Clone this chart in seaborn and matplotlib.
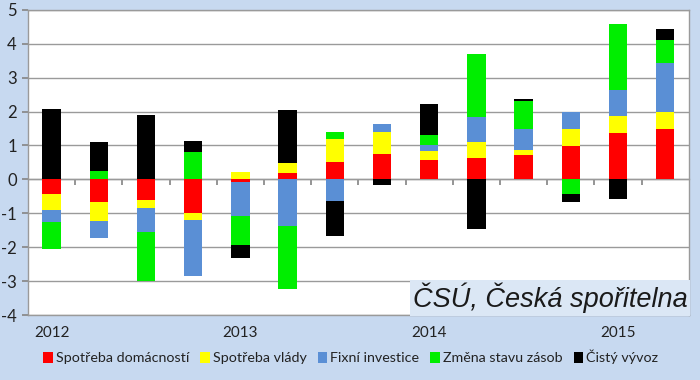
import numpy as np
import pandas as pd
import matplotlib
matplotlib.use("Agg")
import matplotlib.pyplot as plt
import seaborn as sns
from matplotlib.patches import Patch

quarters = ["2012Q1", "2012Q2", "2012Q3", "2012Q4",
            "2013Q1", "2013Q2", "2013Q3", "2013Q4",
            "2014Q1", "2014Q2", "2014Q3", "2014Q4",
            "2015Q1", "2015Q2"]
year_labels = ["2012", "2013", "2014", "2015"]

domacnosti = [-0.42, -0.67, -0.62, -1.00, -0.08, 0.20, 0.52, 0.74, 0.56, 0.62, 0.72, 0.98, 1.36, 1.49]
vlady      = [-0.48, -0.56, -0.22, -0.21, 0.22, 0.27, 0.68, 0.67, 0.27, 0.49, 0.14, 0.52, 0.51, 0.50]
investice  = [-0.35, -0.51, -0.70, -1.64, -1.00, -1.38, -0.63, 0.21, 0.18, 0.73, 0.64, 0.50, 0.76, 1.44]
zasoby     = [-0.81, 0.24, -1.46, 0.82, -0.86, -1.84, 0.21, 0.00, 0.30, 1.85, 0.81, -0.44, 1.94, 0.69]
vyvoz      = [2.09, 0.85, 1.90, 0.30, -0.39, 1.57, -1.04, -0.17, 0.90, -1.47, 0.05, -0.22, -0.57, 0.32]

series_names = ["Spotřeba domácností", "Spotřeba vlády", "Fixní investice",
                "Změna stavu zásob", "Čistý vývoz"]
series_vals = [domacnosti, vlady, investice, zasoby, vyvoz]
colors = ["#ff0000", "#ffff00", "#5a8fd5", "#00ee00", "#000000"]

bg = "#c7d9f0"
sns.set_theme(style="white")
plt.rcParams["font.family"] = ["Lato", "DejaVu Sans"]
plt.rcParams["axes.unicode_minus"] = False

fig = plt.figure(figsize=(7, 3.8), dpi=100, facecolor=bg)
ax = fig.add_axes([0.040, 0.171, 0.944, 0.803])
ax.set_facecolor("white")

pos_base = np.zeros(len(quarters))
neg_base = np.zeros(len(quarters))
for name, vals, col in zip(series_names, series_vals, colors):
    v = np.array(vals, dtype=float)
    bottoms = np.where(v >= 0, pos_base, neg_base)
    df = pd.DataFrame({"q": quarters, "v": v})
    sns.barplot(data=df, x="q", y="v", order=quarters, color=col, saturation=1,
                width=0.39, errorbar=None, bottom=bottoms, linewidth=0, ax=ax,
                zorder=3)
    pos_base = pos_base + np.where(v >= 0, v, 0)
    neg_base = neg_base + np.where(v < 0, v, 0)

ax.set_xlim(-0.5, len(quarters) - 0.5)
ax.set_ylim(-4, 5)
ax.set_yticks(range(-4, 6))
ax.set_yticklabels([str(t) for t in range(-4, 6)], fontsize=12, color="#222222")
ax.yaxis.grid(True, color="#9a9a9a", linewidth=1, zorder=0)
ax.set_axisbelow(True)
ax.tick_params(axis="y", length=4, color="#888888", pad=4, left=True)

ax.set_xticks([0, 4, 8, 12])
ax.set_xticklabels(year_labels, fontsize=11, color="#222222")
ax.tick_params(axis="x", length=0, pad=8)
ax.set_xlabel("")
ax.set_ylabel("")

for s in ["left", "top", "right", "bottom"]:
    ax.spines[s].set_visible(True)
    ax.spines[s].set_color("#9a9a9a")
    ax.spines[s].set_linewidth(1)

# zero axis line with boundary tick marks
sec = ax.secondary_xaxis(4 / 9)
sec.set_xticks(np.arange(0.5, len(quarters) - 0.5, 1.0))
sec.set_xticklabels([])
sec.tick_params(axis="x", direction="out", length=4, color="#888888", bottom=True, top=False)
sec.xaxis.set_ticks_position("bottom")
sec.spines["bottom"].set_color("#9a9a9a")
sec.spines["bottom"].set_linewidth(1)

ax.text(0.998, 0.007, "ČSÚ, Česká spořitelna", transform=ax.transAxes,
        ha="right", va="bottom", fontsize=19.5, style="italic",
        family=["Liberation Sans", "DejaVu Sans"], color="#1a1a1a", zorder=6,
        bbox=dict(boxstyle="square,pad=0.1", facecolor="#dbe7f5", edgecolor="none"))

handles = [Patch(facecolor=c, edgecolor="none") for c in colors]
fig.legend(handles, series_names, loc="center", bbox_to_anchor=(0.501, 0.06),
           ncol=5, frameon=False, fontsize=10.3, handlelength=0.65, handleheight=0.8,
           handletextpad=0.2, columnspacing=0.8, labelcolor="#222222")

fig.savefig("out.png", dpi=100, facecolor=bg)
